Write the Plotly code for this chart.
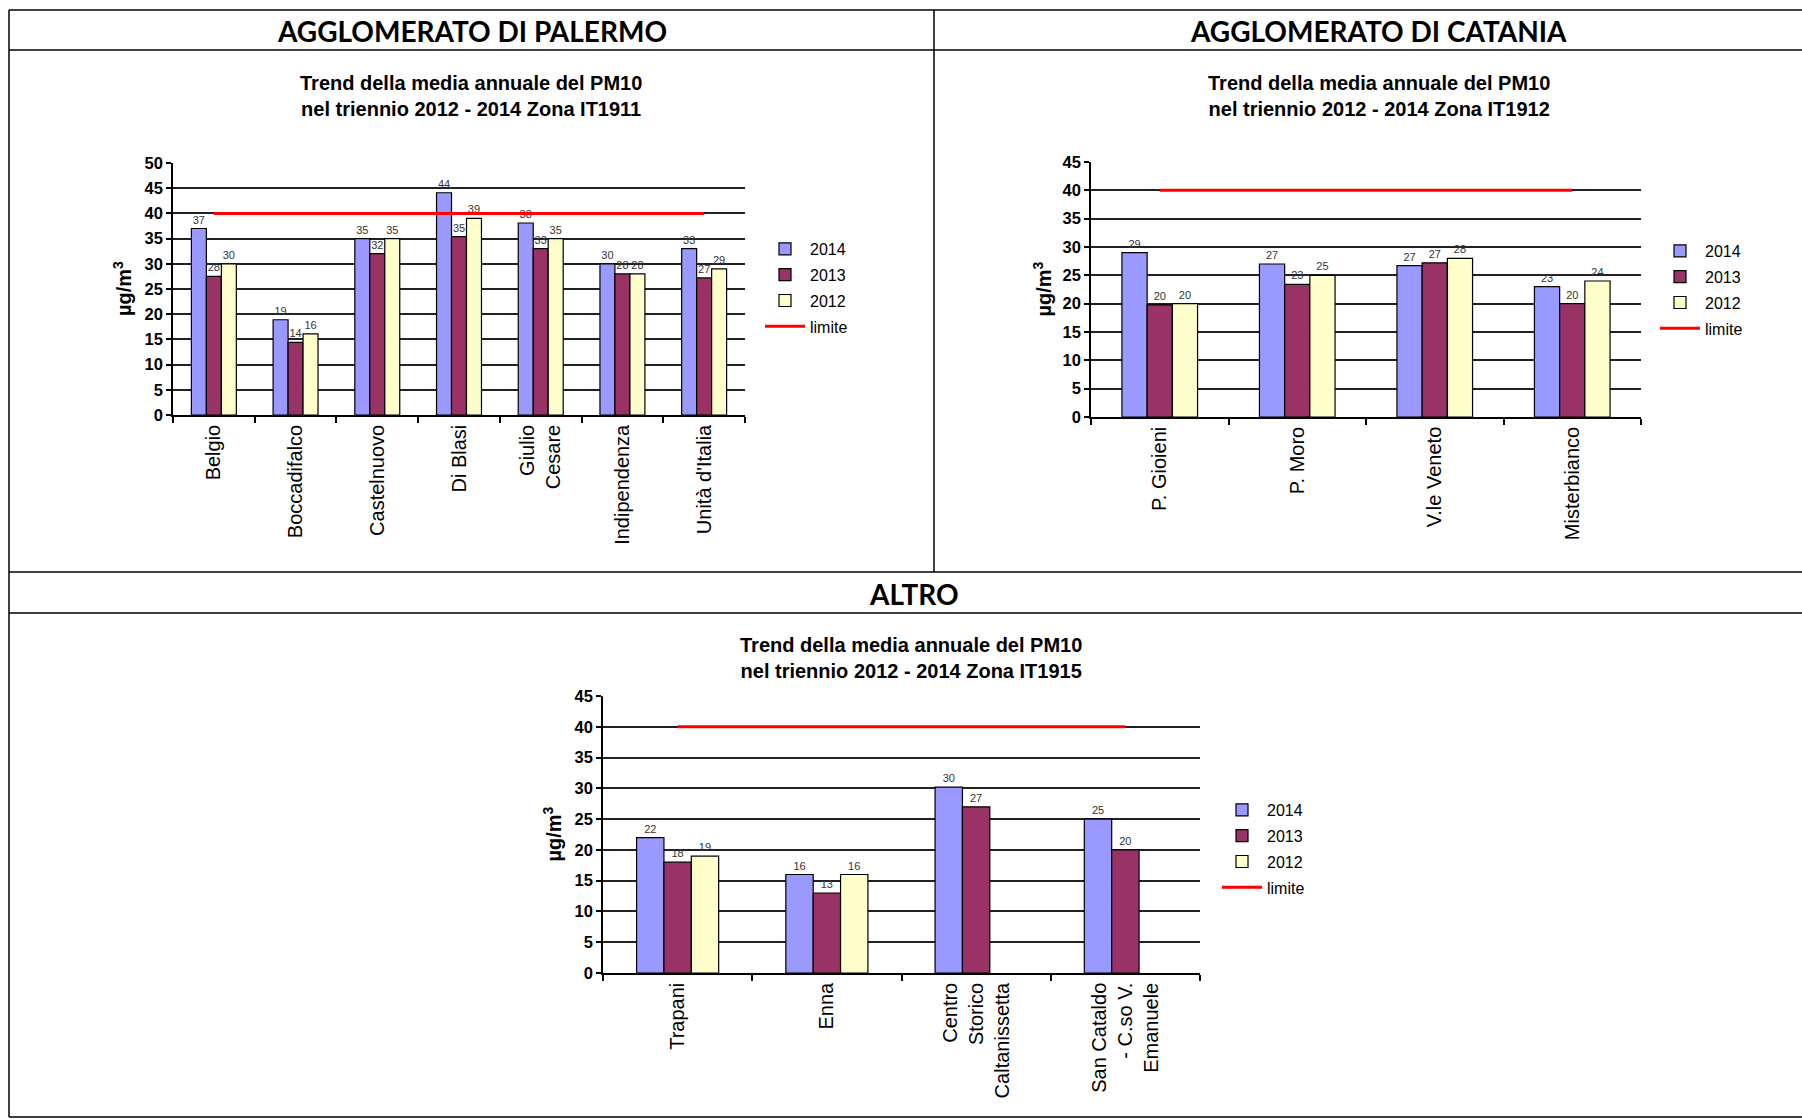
import plotly.graph_objects as go

W, H = 1802, 1119

years = ["2014", "2013", "2012"]
year_colors = ["#9999FF", "#993366", "#FFFFCC"]

pa_stations = ["Belgio", "Boccadifalco", "Castelnuovo", "Di Blasi", "Giulio<br>Cesare", "Indipendenza", "Unità d'Italia"]
pa_2014 = [37, 18.9, 35, 44.1, 38.1, 30, 33]
pa_2013 = [27.5, 14.4, 32, 35.4, 33, 28, 27.2]
pa_2012 = [30, 16.1, 35, 39, 35, 28, 29]

ct_stations = ["P. Gioieni", "P. Moro", "V.le Veneto", "Misterbianco"]
ct_2014 = [29, 27, 26.7, 23]
ct_2013 = [19.8, 23.4, 27.2, 20]
ct_2012 = [20, 25, 28, 24]

al_stations = ["Trapani", "Enna", "Centro<br>Storico<br>Caltanissetta", "San Cataldo<br>- C.so V.<br>Emanuele"]
al_2014 = [22, 16, 30.2, 25]
al_2013 = [18, 13, 27, 20]
al_2012 = [19, 16, None, None]

limite = 40

headers = ["AGGLOMERATO DI PALERMO", "AGGLOMERATO DI CATANIA", "ALTRO"]
titles = [
    "Trend della media annuale del PM10<br>nel triennio 2012 - 2014 Zona IT1911",
    "Trend della media annuale del PM10<br>nel triennio 2012 - 2014 Zona IT1912",
    "Trend della media annuale del PM10<br>nel triennio 2012 - 2014 Zona IT1915",
]

FONT = "Liberation Sans, Arial, sans-serif"


def px_x(v):
    return v / W


def px_y(v):
    return 1 - v / H


fig = go.Figure()

panels = [
    dict(st=pa_stations, vals=[pa_2014, pa_2013, pa_2012], ax="", leg="legend",
         xd=(173, 745), yd=(163, 415), ymax=50, legx=760, legy=232,
         title_x=471, title_y=96, ytitle_x=122),
    dict(st=ct_stations, vals=[ct_2014, ct_2013, ct_2012], ax="2", leg="legend2",
         xd=(1091, 1641), yd=(162, 417), ymax=45, legx=1655, legy=234,
         title_x=1379, title_y=96, ytitle_x=1042),
    dict(st=al_stations, vals=[al_2014, al_2013, al_2012], ax="3", leg="legend3",
         xd=(603, 1200), yd=(696, 973), ymax=45, legx=1217, legy=793,
         title_x=911, title_y=658, ytitle_x=552),
]

for i, p in enumerate(panels):
    xa = "x" + p["ax"]
    ya = "y" + p["ax"]
    for yr, col, vals in zip(years, year_colors, p["vals"]):
        fig.add_trace(go.Bar(
            x=p["st"], y=vals, name=yr, xaxis=xa, yaxis=ya,
            marker=dict(color=col, line=dict(color="black", width=1.2)),
            text=["" if v is None else f"{v:.0f}" for v in vals],
            textposition="outside", cliponaxis=False, constraintext="none",
            textfont=dict(size=11, color="#333333", family=FONT),
            legend=p["leg"], legendgroup=f"g{i}_{yr}",
        ))
    fig.add_trace(go.Scatter(
        x=p["st"], y=[limite] * len(p["st"]), mode="lines", name="limite",
        xaxis=xa, yaxis=ya, line=dict(color="#FF0000", width=3),
        legend=p["leg"], legendgroup=f"g{i}_lim",
    ))
    xkey = "xaxis" + p["ax"]
    ykey = "yaxis" + p["ax"]
    fig.update_layout(**{
        xkey: dict(
            domain=[px_x(p["xd"][0]), px_x(p["xd"][1])], anchor=ya,
            type="category", tickson="boundaries", ticks="outside", ticklen=6,
            tickcolor="black", tickwidth=1.5, showline=True, linecolor="black",
            linewidth=1.5, showgrid=False, tickangle=-90, automargin=False,
            tickfont=dict(size=20, color="black", family=FONT),
        ),
        ykey: dict(
            domain=[px_y(p["yd"][1]), px_y(p["yd"][0])], anchor=xa,
            range=[0, p["ymax"]], dtick=5, tick0=0, ticks="outside", ticklen=5,
            tickcolor="black", tickwidth=1.5, showline=True, linecolor="black",
            linewidth=1.5, showgrid=True, gridcolor="#222222", gridwidth=2,
            zeroline=False, automargin=False,
            tickfont=dict(size=16.5, color="black", family=FONT, weight="bold"),
        ),
        p["leg"]: dict(
            x=px_x(p["legx"]), y=px_y(p["legy"]), xanchor="left", yanchor="top",
            font=dict(size=16, color="black", family=FONT),
            bgcolor="rgba(0,0,0,0)", tracegroupgap=2, itemwidth=40,
            traceorder="grouped",
        ),
    })
    fig.add_annotation(
        x=px_x(p["title_x"]), y=px_y(p["title_y"]), xref="paper", yref="paper",
        text="<b>" + titles[i] + "</b>", showarrow=False, xanchor="center",
        yanchor="middle", font=dict(size=20, color="black", family=FONT),
        align="center",
    )
    fig.add_annotation(
        x=px_x(p["ytitle_x"]), y=px_y((p["yd"][0] + p["yd"][1]) / 2),
        xref="paper", yref="paper", text="<b>µg/m<sup>3</sup></b>",
        showarrow=False, textangle=-90, xanchor="center", yanchor="middle",
        font=dict(size=20, color="black", family=FONT),
    )

# table headers
header_pos = [(472, 31), (1378, 31), (914, 594)]
for txt, (hx, hy) in zip(headers, header_pos):
    fig.add_annotation(
        x=px_x(hx), y=px_y(hy), xref="paper", yref="paper", text="<b>" + txt + "</b>",
        showarrow=False, xanchor="center", yanchor="middle",
        font=dict(size=28, color="black", family="Lato, Open Sans, sans-serif"),
    )

# table borders
lines = [
    (9, 10, W, 10), (9, 50, W, 50), (9, 572, W, 572), (9, 613, W, 613),
    (9, 1117, W, 1117), (9, 10, 9, 1117), (934, 10, 934, 572),
]
for x0, y0, x1, y1 in lines:
    fig.add_shape(type="line", xref="paper", yref="paper",
                  x0=px_x(x0), y0=px_y(y0), x1=px_x(x1), y1=px_y(y1),
                  line=dict(color="black", width=1.5))

fig.update_layout(
    width=W, height=H, margin=dict(l=0, r=0, t=0, b=0, autoexpand=False),
    paper_bgcolor="white", plot_bgcolor="white",
    barmode="group", bargap=0.45, bargroupgap=0,
    showlegend=True,
    font=dict(family=FONT, color="black"),
)

fig.write_html("out.html")
